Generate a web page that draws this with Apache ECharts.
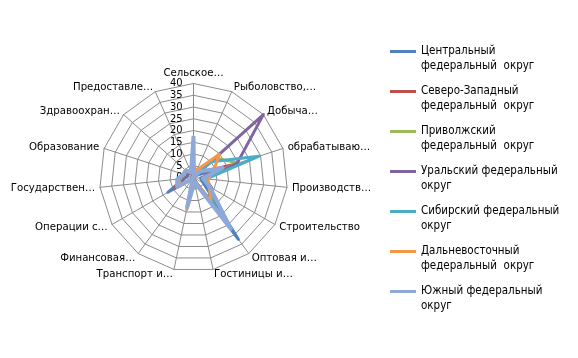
<!DOCTYPE html>
<html>
<head>
<meta charset="utf-8">
<script src="https://cdn.jsdelivr.net/npm/echarts@6/dist/echarts.min.js"></script>
<style>html,body{margin:0;padding:0;background:#fff;}#c{width:578px;height:358px;}</style>
</head>
<body>
<div id="c"></div>
<script>
// Indicators (clockwise from top, as in the reference)
const indicators = ['Сельское…','Рыболовство,…','Добыча…','обрабатываю…','Производств…','Строительство','Оптовая и…','Гостиницы и…','Транспорт и…','Финансовая…','Операции с…','Государствен…','Образование','Здравоохран…','Предоставле…'];
const axisMax = 40;
const seriesNames = ['Центральный федеральный округ','Северо-Западный федеральный округ','Приволжский федеральный округ','Уральский федеральный округ','Сибирский федеральный округ','Дальневосточный федеральный округ','Южный федеральный округ'];
const legendLabels = ['Центральный\nфедеральный  округ','Северо-Западный\nфедеральный  округ','Приволжский\nфедеральный  округ','Уральский федеральный\nокруг','Сибирский федеральный\nокруг','Дальневосточный\nфедеральный  округ','Южный федеральный\nокруг'];
const central   = [2, 0.1, 1.5, 15, 3, 5, 32.5, 1, 9, 0.5, 12.6, 4, 2.5, 3, 2];
const northWest = [3, 0.5, 3, 18, 4, 8, 15, 1.2, 12, 0.5, 9, 5, 3, 3.5, 2];
const volga     = [7, 0.2, 12.5, 20, 4, 8, 14, 1, 9, 0.4, 8, 5, 3.5, 3.5, 2];
const ural      = [2, 0.1, 40, 19.5, 5, 9, 11, 1, 8, 0.3, 7, 4, 3, 3, 1.5];
const siberia   = [6, 0.3, 10, 29.4, 5.5, 7, 15.5, 1, 11, 0.4, 8, 6, 4, 4, 2];
const farEast   = [4.5, 3.5, 14.8, 9, 6.2, 7.8, 12.6, 1.2, 14, 0.3, 6, 7, 4, 4.5, 2];
const south     = [17.7, 0.5, 4, 13, 4, 8, 27, 2, 13, 0.5, 8, 7, 4.5, 4.5, 2.5];
const allValues = [central, northWest, volga, ural, siberia, farEast, south];
const colors = ['#4F81BD','#C0504D','#9BBB59','#8064A2','#4BACC6','#F79646','#8EA8D8'];

// ECharts lays radar indicators counter-clockwise; reorder to get clockwise order.
const order = [0];
for (let i = indicators.length - 1; i >= 1; i--) order.push(i);

const FONT = '"DejaVu Sans Condensed", "DejaVu Sans", sans-serif';
const chart = echarts.init(document.getElementById('c'), null, {renderer: 'canvas'});
chart.setOption({
  animation: false,
  backgroundColor: '#fff',
  textStyle: {fontFamily: FONT},
  legend: {
    orient: 'vertical',
    left: 390,
    top: 29,
    padding: 0,
    itemWidth: 26,
    itemHeight: 3,
    itemGap: -5,
    icon: 'rect',
    data: seriesNames,
    formatter: function (name) { return '\n' + legendLabels[seriesNames.indexOf(name)]; },
    textStyle: {fontFamily: FONT, fontSize: 11.5, color: '#000', lineHeight: 15}
  },
  radar: {
    center: [193.5, 177.5],
    radius: 94,
    startAngle: 90,
    splitNumber: 8,
    shape: 'polygon',
    axisName: {color: '#000', fontFamily: FONT, fontSize: 11.3},
    nameGap: 5,
    splitLine: {lineStyle: {color: '#8c8c8c', width: 1}},
    splitArea: {show: false},
    axisLine: {lineStyle: {color: '#8c8c8c', width: 1}},
    axisTick: {show: false},
    axisLabel: {show: false, color: '#000', fontFamily: FONT, fontSize: 11, margin: 11, showMaxLabel: true, showMinLabel: true},
    indicator: order.map(function (i, k) {
      const o = {name: indicators[i], min: 0, max: axisMax};
      if (k === 0) o.axisLabel = {show: true};
      return o;
    })
  },
  series: seriesNames.map(function (name, s) {
    return {
      type: 'radar',
      name: name,
      symbol: 'none',
      color: colors[s],
      lineStyle: {color: colors[s], width: s === 6 ? 4 : 3},
      data: [{name: name, value: order.map(function (i) { return allValues[s][i]; })}]
    };
  })
});
</script>
</body>
</html>
